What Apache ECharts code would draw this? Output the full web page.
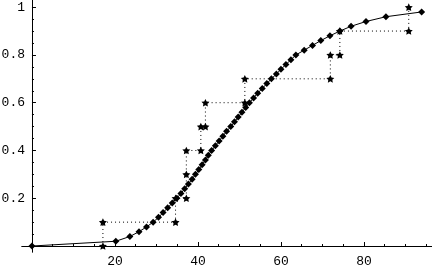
<!DOCTYPE html>
<html>
<head>
<meta charset="utf-8">
<script src="https://cdn.jsdelivr.net/npm/echarts@6/dist/echarts.min.js"></script>
<style>
  html, body { margin: 0; padding: 0; background: #fff; }
  #chart { width: 432px; height: 266px; }
</style>
</head>
<body>
<div id="chart"></div>
<script>
  // fitted curve (diamonds)
  const curveX = [0, 20.2, 23.6, 25.8, 27.6, 29.2, 30.5, 31.6, 32.7, 33.8, 34.9,
    35.9, 36.8, 37.7, 38.6, 39.4, 40.2, 41.0, 41.8, 42.5, 43.3,
    44.2, 45.1, 46.0, 46.9, 47.9, 48.8, 49.7, 50.6, 51.5, 52.4,
    53.4, 54.4, 55.5, 56.6, 57.7, 58.9, 60.0, 61.2, 62.4, 63.6,
    65.6, 67.6, 69.6, 71.8, 74.2, 76.9, 80.5, 85.3, 93.9];
  const curveY = [0, 0.02, 0.04, 0.06, 0.08, 0.10, 0.12, 0.14, 0.16, 0.18, 0.20,
    0.22, 0.24, 0.26, 0.28, 0.30, 0.32, 0.34, 0.36, 0.38, 0.40,
    0.42, 0.44, 0.46, 0.48, 0.50, 0.52, 0.54, 0.56, 0.58, 0.60,
    0.62, 0.64, 0.66, 0.68, 0.70, 0.72, 0.74, 0.76, 0.78, 0.80,
    0.82, 0.84, 0.86, 0.88, 0.90, 0.92, 0.94, 0.96, 0.98];

  // empirical steps (stars)
  const stepX = [17.1, 17.1, 34.6, 34.6, 37.2, 37.2, 37.2, 40.7, 40.7, 41.8, 41.8,
    51.3, 51.3, 71.9, 71.9, 74.2, 74.2, 90.8, 90.8];
  const stepY = [0, 0.1, 0.1, 0.2, 0.2, 0.3, 0.4, 0.4, 0.5, 0.5, 0.6,
    0.6, 0.7, 0.7, 0.8, 0.8, 0.9, 0.9, 1.0];

  // ticks
  const xMajor = [20, 40, 60, 80];
  const xMinor = [5, 10, 15, 25, 30, 35, 45, 50, 55, 65, 70, 75, 85, 90, 95];
  const yMajor = [0.2, 0.4, 0.6, 0.8, 1];
  const yMinor = [0.05, 0.1, 0.15, 0.25, 0.3, 0.35, 0.45, 0.5, 0.55, 0.65, 0.7, 0.75, 0.85, 0.9, 0.95];

  const star = 'path://M0,-10L2.9,-4L9.5,-3.1L4.8,1.5L5.9,8.1L0,5L-5.9,8.1L-4.8,1.5L-9.5,-3.1L-2.9,-4Z';
  const font = '"Liberation Mono", "DejaVu Sans Mono", monospace';

  const chart = echarts.init(document.getElementById('chart'), null, { renderer: 'canvas' });

  const gridBox = { left: 22, top: 0, width: 410, height: 252, containLabel: false, outerBoundsMode: 'none' };
  const xRange = { min: -2.4, max: 96.4 };
  const yRange = { min: -0.025, max: 1.03 };

  function xAxisOf(grid, ticks, len, labels) {
    return {
      type: 'value', gridIndex: grid, min: xRange.min, max: xRange.max,
      axisLine: { onZero: true, lineStyle: { color: '#000', width: 1 } },
      axisTick: { inside: true, length: len, customValues: ticks, lineStyle: { color: '#000' } },
      axisLabel: { show: labels, customValues: ticks, margin: 3, color: '#000', fontFamily: font, fontSize: 13 },
      splitLine: { show: false }
    };
  }
  function yAxisOf(grid, ticks, len, labels) {
    return {
      type: 'value', gridIndex: grid, min: yRange.min, max: yRange.max,
      axisLine: { onZero: true, lineStyle: { color: '#000', width: 1 } },
      axisTick: { inside: true, length: len, customValues: ticks, lineStyle: { color: '#000' } },
      axisLabel: { show: labels, customValues: ticks, margin: -3, color: '#000', fontFamily: font, fontSize: 13 },
      splitLine: { show: false }
    };
  }

  chart.setOption({
    animation: false,
    backgroundColor: '#fff',
    grid: [Object.assign({}, gridBox), Object.assign({}, gridBox)],
    xAxis: [xAxisOf(0, xMajor, 4, true), xAxisOf(1, xMinor, 2, false)],
    yAxis: [yAxisOf(0, yMajor, 4, true), yAxisOf(1, yMinor, 2, false)],
    series: [
      {
        type: 'line',
        xAxisIndex: 0, yAxisIndex: 0,
        data: stepX.map((x, i) => [x, stepY[i]]),
        symbol: star,
        symbolSize: 8,
        symbolKeepAspect: true,
        itemStyle: { color: '#000' },
        lineStyle: { color: '#000', width: 1, type: [1, 3] },
        z: 2
      },
      {
        type: 'line',
        xAxisIndex: 0, yAxisIndex: 0,
        data: curveX.map((x, i) => [x, curveY[i]]),
        symbol: 'diamond',
        symbolSize: [7, 7],
        itemStyle: { color: '#000' },
        lineStyle: { color: '#000', width: 1 },
        z: 3
      }
    ]
  });
</script>
</body>
</html>
